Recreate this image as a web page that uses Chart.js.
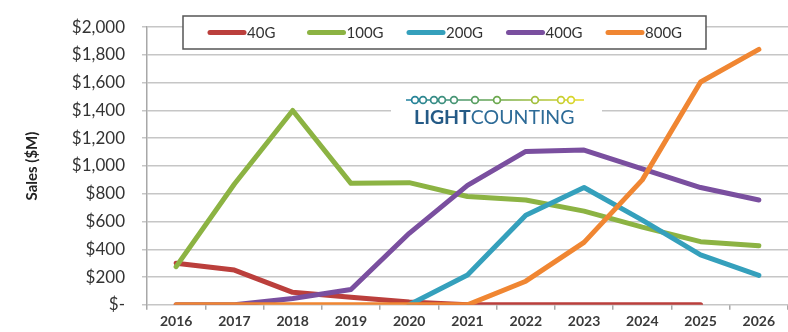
<!DOCTYPE html>
<html>
<head>
<meta charset="utf-8">
<script src="https://cdn.jsdelivr.net/npm/chart.js@4.4.1/dist/chart.umd.min.js"></script>
<style>
  html, body { margin: 0; padding: 0; background: #fff; }
  #wrap { width: 788px; height: 332px; position: relative; }
</style>
</head>
<body>
<div id="wrap"><canvas id="sales-chart"></canvas></div>
<script>
// Transceiver sales by data rate, $M
const years = ['2016', '2017', '2018', '2019', '2020', '2021', '2022', '2023', '2024', '2025', '2026'];
const sales40G  = [300, 250, 90, 55, 20, 0, 0, 0, 0, 0, null];
const sales100G = [275, 870, 1400, 875, 880, 780, 755, 675, 560, 455, 425];
const sales200G = [null, null, null, null, 0, 215, 645, 845, 610, 360, 212];
const sales400G = [0, 0, 45, 110, 515, 860, 1105, 1115, 980, 845, 755];
const sales800G = [0, 0, 0, 0, 0, 0, 170, 450, 900, 1605, 1840];
const yTicks = [0, 200, 400, 600, 800, 1000, 1200, 1400, 1600, 1800, 2000];

const FONT = 'Lato, "Open Sans", sans-serif';

function money(v) {
  if (v === 0) return '$-';
  return '$' + v.toLocaleString('en-US');
}

// boxed legend sitting over the top of the plot
const boxLegend = {
  id: 'boxLegend',
  afterDraw(chart) {
    const c = chart.ctx;
    const x0 = 183, y0 = 16, w = 523, h = 33;
    c.save();
    c.fillStyle = '#fff';
    c.fillRect(x0, y0, w, h);
    c.strokeStyle = '#555';
    c.lineWidth = 1.5;
    c.strokeRect(x0, y0, w, h);
    c.font = '15px ' + FONT;
    c.textBaseline = 'middle';
    chart.data.datasets.forEach((ds, i) => {
      const lx = 210 + i * 99.5;
      const ly = y0 + h / 2;
      c.strokeStyle = ds.borderColor;
      c.lineWidth = 5;
      c.lineCap = 'round';
      c.beginPath();
      c.moveTo(lx, ly);
      c.lineTo(lx + 34, ly);
      c.stroke();
      c.fillStyle = '#333';
      c.fillText(ds.label, lx + 37, ly + 1);
    });
    c.restore();
  }
};

// company mark inside the plot
const logo = {
  id: 'logo',
  afterDatasetsDraw(chart) {
    const c = chart.ctx;
    c.save();
    c.fillStyle = '#fff';
    c.fillRect(391, 88, 211, 40);
    const grad = c.createLinearGradient(406, 0, 584, 0);
    grad.addColorStop(0, '#1f7fa0');
    grad.addColorStop(0.5, '#6aa84f');
    grad.addColorStop(1, '#e8dc28');
    c.strokeStyle = grad;
    c.lineWidth = 1.7;
    c.beginPath();
    c.moveTo(406, 100);
    c.lineTo(584, 100);
    c.stroke();
    [415, 423, 434, 442, 454, 475, 497, 535, 561, 571].forEach(cx => {
      c.beginPath();
      c.arc(cx, 100, 3.4, 0, Math.PI * 2);
      c.fillStyle = '#fff';
      c.fill();
      c.stroke();
    });
    c.textBaseline = 'alphabetic';
    c.font = 'bold 19.5px ' + FONT;
    c.fillStyle = '#245a86';
    c.fillText('LIGHT', 414, 124);
    const lw = c.measureText('LIGHT').width;
    c.font = '19.5px ' + FONT;
    c.fillStyle = '#2d6b97';
    c.fillText('COUNTING', 414 + lw, 124);
    c.restore();
  }
};

const series = [
  { label: '40G', data: sales40G, color: '#bb3f3c', order: 5 },
  { label: '100G', data: sales100G, color: '#8cb343', order: 4 },
  { label: '200G', data: sales200G, color: '#35a0bc', order: 3 },
  { label: '400G', data: sales400G, color: '#7a4f9f', order: 2 },
  { label: '800G', data: sales800G, color: '#f08632', order: 1 }
];

new Chart(document.getElementById('sales-chart'), {
  type: 'line',
  data: {
    labels: years,
    datasets: series.map(s => ({
      label: s.label,
      data: s.data,
      borderColor: s.color,
      backgroundColor: s.color,
      borderWidth: 5,
      borderCapStyle: 'round',
      borderJoinStyle: 'round',
      pointRadius: 0,
      tension: 0,
      spanGaps: false,
      order: s.order
    }))
  },
  options: {
    responsive: true,
    maintainAspectRatio: false,
    animation: false,
    layout: { padding: { top: 25, right: 0, left: 0, bottom: 0 } },
    plugins: {
      legend: { display: false },
      tooltip: { enabled: false }
    },
    scales: {
      x: {
        offset: true,
        grid: { offset: true, drawOnChartArea: false, color: '#a8a8a8', tickLength: 5, lineWidth: 1.5 },
        border: { display: false },
        ticks: { color: '#3a3a3a', font: { family: FONT, size: 14, weight: 'bold' }, padding: 3, maxRotation: 0 },
        afterFit(scale) { scale.height = 26; }
      },
      y: {
        min: 0,
        max: 2000,
        afterBuildTicks(scale) { scale.ticks = yTicks.map(v => ({ value: v })); },
        grid: { color: '#c6c6c6', lineWidth: 1.5, tickLength: 5 },
        border: { color: '#a8a8a8', width: 1.5 },
        ticks: {
          color: '#333',
          font: { family: FONT, size: 17 },
          padding: 17,
          callback: v => money(v)
        },
        title: {
          display: true,
          text: 'Sales ($M)',
          color: '#222',
          font: { family: FONT, size: 15, weight: 'bold' },
          padding: { top: 23, bottom: 12 }
        },
        afterFit(scale) { scale.width = 147; }
      }
    }
  },
  plugins: [logo, boxLegend]
});
</script>
</body>
</html>
